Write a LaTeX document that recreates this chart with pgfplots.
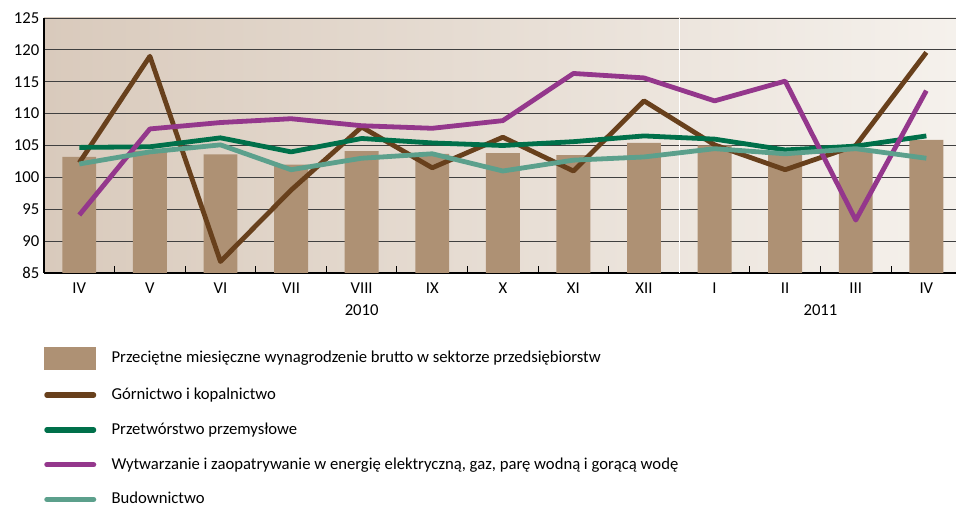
\documentclass[border=0pt]{standalone}
\usepackage{fontspec}
\setmainfont{Carlito}
\usepackage{pgfplots}
\pgfplotsset{compat=1.18}

\definecolor{barc}{RGB}{174,145,116}
\definecolor{gorn}{RGB}{104,64,28}
\definecolor{przet}{RGB}{0,112,74}
\definecolor{energ}{RGB}{148,55,140}
\definecolor{bud}{RGB}{92,160,140}
\definecolor{bgl}{RGB}{217,202,188}
\definecolor{bgr}{RGB}{245,241,236}

\begin{document}
\begin{tikzpicture}
\useasboundingbox (-33pt,-177pt) rectangle (684pt,204.75pt);
\begin{axis}[
  at={(0,0)}, anchor=south west,
  scale only axis, width=684pt, height=191.25pt,
  xmin=-0.5, xmax=12.42, ymin=85, ymax=125,
  ytick={85,90,...,125},
  xtick={0,...,12},
  xticklabels={IV,V,VI,VII,VIII,IX,X,XI,XII,I,II,III,IV},
  minor xtick={0.5,1.5,...,11.5},
  major tick length=0pt, minor tick length=5pt,
  minor tick style={line width=0.8pt, black},
  extra x ticks={4,10.5},
  extra x tick labels={2010,2011},
  extra x tick style={major tick length=0pt,
    xticklabel style={yshift=-17pt}},
  xticklabel style={yshift=-3.5pt},
  ymajorgrids,
  grid style={black!75, line width=0.7pt},
  axis x line*=bottom, axis y line*=left,
  axis line style={line width=0.8pt, black},
  /pgf/number format/assume math mode=true,
  ticklabel style={font=\fontsize{12.5}{14}\selectfont},
  axis background/.style={shade, left color=bgl, right color=bgr},
  legend style={at={(0,0)}, anchor=north west, yshift=-55.5pt,
    draw=none, fill=none, inner sep=0pt, row sep=11.6pt,
    column sep=9pt, font=\fontsize{12.5}{14}\selectfont,
    nodes={text height=8pt, text depth=1.5pt, inner sep=2.5pt}},
  legend cell align=left,
]
\draw[white, line width=1pt] (axis cs:8.5,85) -- (axis cs:8.5,125);

\addplot[ybar, bar shift=0pt, bar width=0.48, fill=barc, draw=none,
  legend image code/.code={\fill[barc] (0pt,-8.5pt) rectangle (39pt,8.5pt);}]
  coordinates {(0,103.2) (1,104.2) (2,103.6) (3,102.0) (4,104.1) (5,103.7)
    (6,103.8) (7,103.5) (8,105.4) (9,105.0) (10,104.1) (11,104.3) (12,105.9)};
\addlegendentry{Przeciętne miesięczne wynagrodzenie brutto w sektorze przedsiębiorstw}

\addplot[gorn, line width=3.6pt, line join=round,
  legend image code/.code={\draw[gorn, line width=4pt, line cap=round] (2pt,0pt) -- (37pt,0pt);}]
  coordinates {(0,102.3) (1,119.0) (2,86.8) (3,98.0) (4,107.9) (5,101.5)
    (6,106.3) (7,101.0) (8,112.0) (9,105.1) (10,101.2) (11,105.0) (12,119.6)};
\addlegendentry{Górnictwo i kopalnictwo}

\addplot[przet, line width=3.6pt, line join=round,
  legend image code/.code={\draw[przet, line width=4pt, line cap=round] (2pt,0pt) -- (37pt,0pt);}]
  coordinates {(0,104.7) (1,104.8) (2,106.2) (3,104.0) (4,106.1) (5,105.4)
    (6,105.0) (7,105.6) (8,106.5) (9,106.0) (10,104.3) (11,104.9) (12,106.5)};
\addlegendentry{Przetwórstwo przemysłowe}

\addplot[energ, line width=3.6pt, line join=round,
  legend image code/.code={\draw[energ, line width=4pt, line cap=round] (2pt,0pt) -- (37pt,0pt);}]
  coordinates {(0,94.1) (1,107.6) (2,108.6) (3,109.2) (4,108.1) (5,107.7)
    (6,108.9) (7,116.3) (8,115.6) (9,112.0) (10,115.1) (11,93.3) (12,113.6)};
\addlegendentry{Wytwarzanie i zaopatrywanie w energię elektryczną, gaz, parę wodną i gorącą wodę}

\addplot[bud, line width=3.6pt, line join=round,
  legend image code/.code={\draw[bud, line width=4pt, line cap=round] (2pt,0pt) -- (37pt,0pt);}]
  coordinates {(0,102.1) (1,104.0) (2,105.1) (3,101.2) (4,103.0) (5,103.7)
    (6,101.0) (7,102.7) (8,103.2) (9,104.5) (10,103.7) (11,104.5) (12,103.0)};
\addlegendentry{Budownictwo}
\end{axis}
\end{tikzpicture}
\end{document}
